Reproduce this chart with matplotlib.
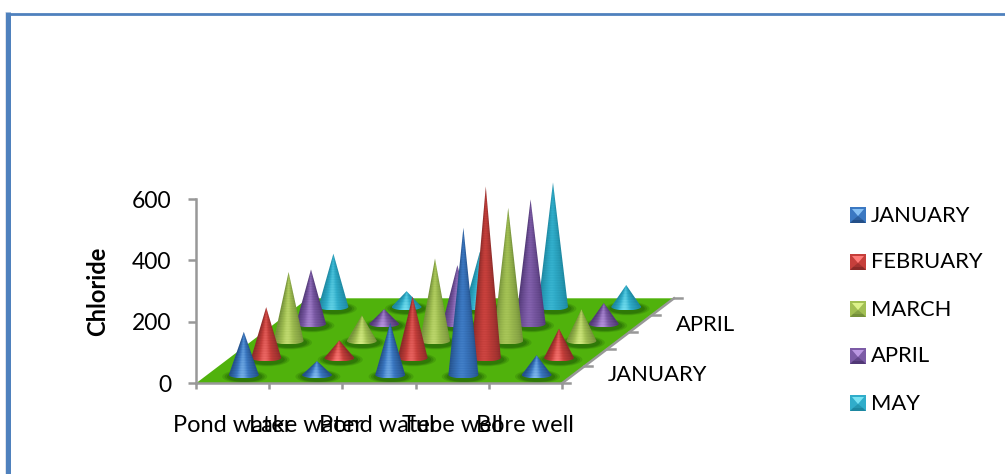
import numpy as np
import matplotlib
matplotlib.use("Agg")
import matplotlib.pyplot as plt
from matplotlib.colors import LinearSegmentedColormap
from matplotlib.patches import Ellipse, PathPatch, Polygon
from matplotlib.path import Path

plt.rcParams["font.family"] = ["Lato", "DejaVu Sans"]

# Chloride readings per sampling source and month
sources = ["Pond water", "Lake water", "Pond water", "Tube well", "Bore well"]
months = ["JANUARY", "FEBRUARY", "MARCH", "APRIL", "MAY"]
january = [140, 45, 170, 479, 64]
february = [165, 57, 200, 558, 95]
march = [224, 83, 268, 433, 103]
april = [177, 48, 191, 405, 68]
may = [173, 51, 179, 405, 71]
series = [january, february, march, april, may]
yticks = [0, 200, 400, 600]

# dark, mid and highlight tones of each month's cones
palette = [
    ("#234f88", "#3b78c2", "#86c0f4"),
    ("#8a2a28", "#c63f3b", "#ff7b78"),
    ("#74903a", "#a2c053", "#dcf28a"),
    ("#513876", "#7c5ba6", "#bb97e2"),
    ("#1d87a0", "#30adca", "#78e2f2"),
]

W, H = 1005, 474
fig = plt.figure(figsize=(W / 100, H / 100), dpi=100, facecolor="white")

# Axes box spans the front edge of the floor and the 0-600 value range
L, R, B, T = 196, 562, 383.3, 199
ax = fig.add_axes([L / W, 1 - B / H, (R - L) / W, (B - T) / H])
ax.set_xlim(0, 5)
ax.set_ylim(0, 600)
px_x = (R - L) / 5
px_y = (B - T) / 600
# Oblique offset of one month row, in data units
depth_x = 22.4 / px_x
depth_y = 17.0 / px_y
half_w = 15.0 / px_x
semi_h = 3.6 / px_y

GREY = "#989898"
ax.patch.set_visible(False)
for side in ("top", "right"):
    ax.spines[side].set_visible(False)
for side in ("left", "bottom"):
    ax.spines[side].set_color(GREY)
    ax.spines[side].set_linewidth(1.8)
ax.set_yticks(yticks)
ax.set_xticks(range(6))
ax.set_xticklabels([])
ax.set_xticks(np.arange(5) + 0.5, sources, minor=True)
ax.tick_params(axis="y", length=5.5, width=1.8, color=GREY, labelsize=16.5, pad=12)
ax.tick_params(axis="x", which="major", length=4.5, width=1.8, color=GREY)
ax.tick_params(axis="x", which="minor", length=0, labelsize=17, pad=23)
ax.set_ylabel("Chloride", fontsize=17, fontweight="bold", va="center")
ax.yaxis.set_label_coords(-0.27, 0.5)

n = len(months)
floor = Polygon(
    [(0, 0), (5, 0), (5 + n * depth_x, n * depth_y), (n * depth_x, n * depth_y)],
    closed=True, fc="#50b20c", ec="none", zorder=1, clip_on=False,
)
ax.add_patch(floor)

# Depth axis with its horizontal ticks
ax.plot([5, 5 + n * depth_x], [0, n * depth_y], color=GREY, lw=1.8, clip_on=False, zorder=1.5)
for k in range(n + 1):
    ax.plot([5 + k * depth_x, 5 + k * depth_x + 8 / px_x], [k * depth_y] * 2,
            color=GREY, lw=1.8, clip_on=False, zorder=1.5)


def draw_shadow(cx, cy):
    for grow, alpha in ((1.5, 0.2), (1.34, 0.28), (1.18, 0.38)):
        ax.add_patch(Ellipse((cx + 0.012, cy - 1.8 / px_y), 2 * half_w * grow, 2 * semi_h * grow * 1.25,
                             fc="#1e5a06", ec="none", alpha=alpha, zorder=2, clip_on=False))


def draw_cone(cx, cy, value, tones, z):
    cmap = LinearSegmentedColormap.from_list("cone", tones)
    rows, cols = max(int(value * px_y * 2), 24), 90
    xs = np.linspace(-1, 1, cols)
    ts = np.linspace(0, 1, rows)[:, None]
    u = xs[None, :] / np.maximum(1 - ts, 0.02)
    # Bright stripe left of centre fading into dark edges
    glow = np.exp(-((u + 0.12) / 0.42) ** 2)
    edge = np.clip(np.abs(u), 0, 1) ** 3
    strength = np.clip(1.0 - value / 600, 0.3, 1.0)
    lift = 1 - 0.5 * ts
    ripple = 0.05 * np.sin(ts * value * px_y * 2.6)
    shade = 0.34 + 0.66 * glow * strength * lift - 0.32 * edge + ripple
    rgba = cmap(np.clip(shade, 0, 1))
    top = cy + value
    img = ax.imshow(rgba, extent=(cx - half_w, cx + half_w, cy - semi_h, top),
                    origin="lower", aspect="auto", zorder=z, interpolation="bilinear")
    th = np.linspace(np.pi, 2 * np.pi, 24)
    verts = [(cx, top)] + [(cx + half_w * np.cos(a), cy + semi_h * np.sin(a)) for a in th] + [(cx, top)]
    clip = PathPatch(Path(verts), transform=ax.transData, fc="none", ec="none")
    ax.add_patch(clip)
    clip.set_clip_on(False)
    img.set_clip_path(clip)
    # Cones rise past the axes box, so only the figure limits them
    img.set_clip_box(fig.bbox)


for s, values in enumerate(series):
    for c in range(len(sources)):
        draw_shadow(c + 0.5 + (s + 0.5) * depth_x, (s + 0.5) * depth_y)

z = 3
for s in range(n - 1, -1, -1):
    for c, value in enumerate(series[s]):
        draw_cone(c + 0.5 + (s + 0.5) * depth_x, (s + 0.5) * depth_y, value, palette[s], z)
        z += 1

ax.set_xlim(0, 5)
ax.set_ylim(0, 600)

# Overlay in pixel units for the frame, the depth labels and the legend
ov = fig.add_axes([0, 0, 1, 1], zorder=50)
ov.set_xlim(0, W)
ov.set_ylim(H, 0)
ov.axis("off")
ov.patch.set_visible(False)

BLUE = "#4f81bd"
ov.plot([8.2, 8.2], [12.3, H], color=BLUE, lw=3.6, solid_capstyle="butt")
ov.plot([6, W], [13.7, 13.7], color=BLUE, lw=2.0, solid_capstyle="butt")
ov.plot([5.4, 5.4], [12.3, H], color="#dfe3ea", lw=0.7)

ov.text(608, 375, months[0], fontsize=15.8, va="center", ha="left")
ov.text(676, 325, months[3], fontsize=15.8, va="center", ha="left")

# Bevelled legend swatches: mid body, dark lower band, bright wedge from the top
for i, (month, tones) in enumerate(zip(months, palette)):
    x0, y0, size = 850, 207 + 47 * i, 16
    x1, y1 = x0 + size, y0 + size
    xm, ym = x0 + size / 2, y0 + size / 2
    ov.add_patch(Polygon([(x0, y0), (x1, y0), (x1, y1), (x0, y1)], fc=tones[1], ec="none"))
    ov.add_patch(Polygon([(x0, y1), (x1, y1), (x1 - 3, y1 - 3), (x0 + 3, y1 - 3)], fc=tones[0], ec="none"))
    ov.add_patch(Polygon([(x0 + 2, y0 + 2), (x1 - 2, y0 + 2), (xm, ym + 1)], fc=tones[2], ec="none"))
    ov.add_patch(Polygon([(x0 + 3, y1 - 3), (x1 - 3, y1 - 3), (xm, ym + 1)], fc=tones[0], ec="none", alpha=0.6))
    ov.text(871, y0 + 8.5, month, fontsize=15.8, va="center", ha="left")

fig.savefig("out.png", dpi=100)
